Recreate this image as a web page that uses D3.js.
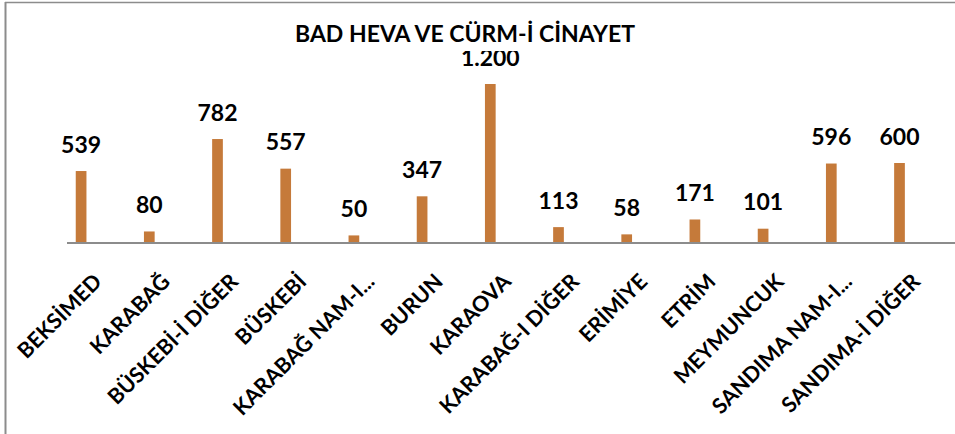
<!DOCTYPE html>
<html><head><meta charset="utf-8">
<script src="https://cdn.jsdelivr.net/npm/d3@7"></script>
<style>body{margin:0;background:#fff}svg{display:block}text{font-family:Lato,"Open Sans",sans-serif;font-weight:bold}</style>
</head><body><svg id="c" width="955" height="434"></svg>
<script>
const title = "BAD HEVA VE CÜRM-İ CİNAYET";
const categories = ["BEKSİMED","KARABAĞ","BÜSKEBİ-İ DİĞER","BÜSKEBİ","KARABAĞ NAM-I...","BURUN","KARAOVA","KARABAĞ-I DİĞER","ERİMİYE","ETRİM","MEYMUNCUK","SANDIMA NAM-I...","SANDIMA-İ DİĞER"];
const values = [539,80,782,557,50,347,1200,113,58,171,101,596,600];
const valueLabels = ["539","80","782","557","50","347","1.200","113","58","171","101","596","600"];

const svg = d3.select("#c");
const W = 955, H = 434;
const x = d3.scaleBand().domain(categories).range([47, 47 + 13 * 68.2]).padding(0);
const bw = x.bandwidth() * 0.157;
const cx = d => x(d) + x.bandwidth() / 2;
const y = d3.scaleLinear().domain([0, 1200]).range([242, 84]);

svg.append("line").attr("x1",5.5).attr("x2",5.5).attr("y1",2).attr("y2",H).attr("stroke","#8c8c8c").attr("stroke-width",2);
svg.append("line").attr("x1",5).attr("x2",W).attr("y1",2.5).attr("y2",2.5).attr("stroke","#8c8c8c").attr("stroke-width",1.5);

svg.append("g").selectAll("rect").data(values).join("rect")
  .attr("x",(d,i)=>cx(categories[i]) - bw/2).attr("width",bw)
  .attr("y",d=>y(d)).attr("height",d=>y(0)-y(d)).attr("fill","#C57A3A");

svg.append("line").attr("x1",67).attr("x2",W).attr("y1",243).attr("y2",243).attr("stroke","#8c8c8c").attr("stroke-width",2);

svg.append("g").selectAll("text").data(values).join("text")
  .attr("x",(d,i)=>cx(categories[i])).attr("y",d=>y(d)-18.5)
  .attr("text-anchor","middle").attr("font-size",23).attr("fill","#000")
  .text((d,i)=>valueLabels[i]);

svg.append("g").selectAll("text").data(categories).join("text")
  .attr("transform",d=>`translate(${cx(d)+22},${283}) rotate(-45)`)
  .attr("text-anchor","end").attr("font-size",21.5).attr("fill","#000")
  .text(d=>d);

svg.append("rect").attr("x",290).attr("y",14).attr("width",355).attr("height",37).attr("fill","#fff");
svg.append("text").attr("x",465).attr("y",41.7).attr("text-anchor","middle").attr("font-size",23).attr("fill","#000").text(title);
</script></body></html>
